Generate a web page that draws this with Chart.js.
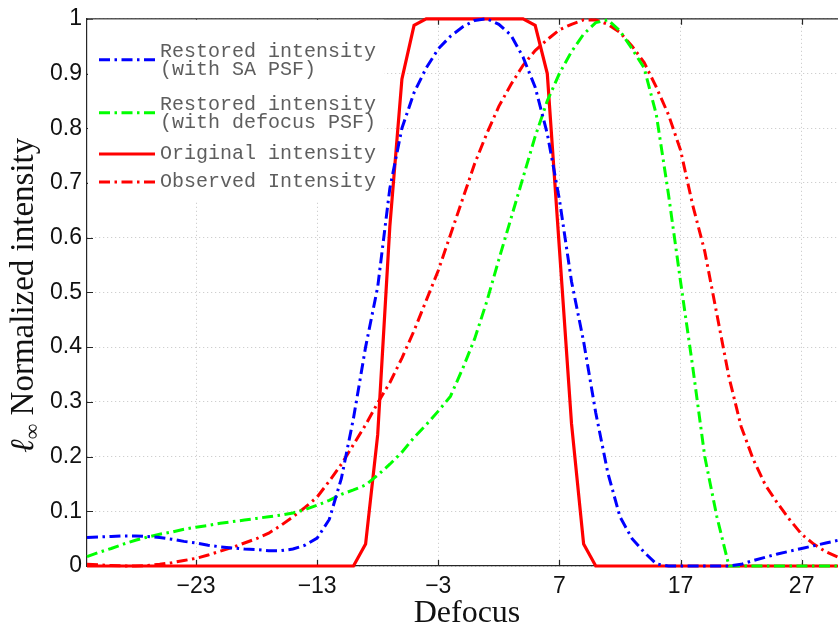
<!DOCTYPE html>
<html>
<head>
<meta charset="utf-8">
<title>Normalized intensity vs defocus</title>
<script src="https://cdn.jsdelivr.net/npm/chart.js@4.4.1/dist/chart.umd.min.js"></script>
<style>
  html, body { margin: 0; padding: 0; background: #fff; }
  #wrap { position: relative; width: 838px; height: 629px; }
</style>
</head>
<body>
<div id="wrap"><canvas id="intensityChart" width="838" height="629"></canvas></div>
<script>
// defocus positions (one sample per unit)
const defocus = [
  -32, -31, -30, -29, -28, -27, -26, -25, -24, -23,
  -22, -21, -20, -19, -18, -17, -16, -15, -14, -13,
  -12, -11, -10, -9, -8, -7, -6, -5, -4, -3,
  -2, -1, 0, 1, 2, 3, 4, 5, 6, 7,
  8, 9, 10, 11, 12, 13, 14, 15, 16, 17,
  18, 19, 20, 21, 22, 23, 24, 25, 26, 27,
  28, 29, 30
];

// restored intensity with SA PSF (blue)
const restoredSA = [
  0.052, 0.053, 0.054, 0.055, 0.055, 0.054, 0.052, 0.049, 0.045, 0.042,
  0.038, 0.035, 0.033, 0.031, 0.030, 0.028, 0.028, 0.031, 0.038, 0.051,
  0.085, 0.16, 0.27, 0.40, 0.51, 0.69, 0.80, 0.865, 0.91, 0.945,
  0.968, 0.985, 0.997, 1.0, 0.99, 0.97, 0.93, 0.875, 0.79, 0.67,
  0.52, 0.41, 0.28, 0.17, 0.09, 0.05, 0.025, 0.004, 0, 0,
  0, 0, 0, 0, 0.003, 0.01, 0.016, 0.022, 0.027, 0.032,
  0.037, 0.042, 0.047
];

// restored intensity with defocus PSF (green)
const restoredDefocus = [
  0.017, 0.025, 0.032, 0.040, 0.047, 0.053, 0.058, 0.062, 0.067, 0.071,
  0.074, 0.078, 0.081, 0.084, 0.087, 0.090, 0.093, 0.097, 0.103, 0.111,
  0.120, 0.131, 0.139, 0.148, 0.166, 0.186, 0.208, 0.235, 0.258, 0.283,
  0.31, 0.36, 0.415, 0.483, 0.56, 0.635, 0.71, 0.785, 0.85, 0.90,
  0.94, 0.972, 0.993, 0.998, 0.978, 0.945, 0.91, 0.825, 0.68, 0.52,
  0.365, 0.20, 0.09, 0, 0, 0, 0, 0, 0, 0,
  0, 0, 0
];

// original intensity (red, solid)
const original = [
  0, 0, 0, 0, 0, 0, 0, 0, 0, 0,
  0, 0, 0, 0, 0, 0, 0, 0, 0, 0,
  0, 0, 0, 0.04, 0.24, 0.62, 0.89, 0.988, 1, 1,
  1, 1, 1, 1, 1, 1, 1, 0.988, 0.90, 0.58,
  0.26, 0.04, 0, 0, 0, 0, 0, 0, 0, 0,
  0, 0, 0, 0, 0, 0, 0, 0, 0, 0,
  0, 0, 0
];

// observed intensity (red, dash-dot)
const observed = [
  0.003, 0.002, 0.001, 0, 0, 0.001, 0.003, 0.006, 0.010, 0.014,
  0.020, 0.027, 0.034, 0.042, 0.050, 0.060, 0.074, 0.090, 0.107, 0.126,
  0.155, 0.186, 0.222, 0.258, 0.298, 0.335, 0.38, 0.43, 0.485, 0.54,
  0.605, 0.67, 0.735, 0.79, 0.84, 0.88, 0.915, 0.942, 0.962, 0.98,
  0.99, 0.998, 0.998, 0.99, 0.975, 0.95, 0.92, 0.875, 0.825, 0.76,
  0.66, 0.575, 0.46, 0.345, 0.255, 0.195, 0.148, 0.115, 0.085, 0.058,
  0.04, 0.026, 0.016
];

const xTicks = [-23, -13, -3, 7, 17, 27];
const yTicks = [0, 0.1, 0.2, 0.3, 0.4, 0.5, 0.6, 0.7, 0.8, 0.9, 1];

const legendLabels = [
  ['Restored intensity', '(with SA PSF)'],
  ['Restored intensity', '(with defocus PSF)'],
  ['Original intensity'],
  ['Observed Intensity']
];

const dashDot = [11, 4.5, 2.5, 4.5];

function toPoints(values) {
  return defocus.map((x, i) => ({ x: x, y: values[i] }));
}

// marcos, ticks interiores, leyenda y titulos (estilo MATLAB)
const matlabFrame = {
  id: 'matlabFrame',
  beforeDatasetsDraw(chart) {
    const { ctx, chartArea: a, scales: { x, y } } = chart;
    ctx.save();
    ctx.strokeStyle = '#262626';
    ctx.lineWidth = 1.2;
    ctx.beginPath();
    ctx.moveTo(a.left, a.top);
    ctx.lineTo(a.right, a.top);
    xTicks.forEach(v => {
      const px = Math.round(x.getPixelForValue(v)) + 0.5;
      ctx.moveTo(px, a.bottom);
      ctx.lineTo(px, a.bottom - 6);
      ctx.moveTo(px, a.top);
      ctx.lineTo(px, a.top + 6);
    });
    yTicks.forEach(v => {
      const py = Math.round(y.getPixelForValue(v)) + 0.5;
      ctx.moveTo(a.left, py);
      ctx.lineTo(a.left + 6, py);
    });
    ctx.stroke();
    ctx.restore();
  },
  afterDatasetsDraw(chart) {
    const { ctx, chartArea: a } = chart;
    const datasets = chart.data.datasets;
    ctx.save();
    // caja blanca de la leyenda (sin borde)
    ctx.fillStyle = '#fff';
    ctx.fillRect(a.left + 1, a.top + 1, 296, 181);

    const entryTop = [51.5, 104.5, 154, 182];
    const lineGap = 18.5;
    ctx.font = '20px "Liberation Mono", "DejaVu Sans Mono", monospace';
    ctx.textBaseline = 'middle';
    ctx.textAlign = 'left';
    legendLabels.forEach((lines, i) => {
      const ds = datasets[i];
      const y0 = entryTop[i];
      const midY = y0 + (lines.length - 1) * lineGap / 2 + (lines.length > 1 ? -1 : 0);
      ctx.save();
      ctx.strokeStyle = ds.borderColor;
      ctx.lineWidth = ds.borderWidth;
      ctx.setLineDash(ds.borderDash || []);
      ctx.beginPath();
      ctx.moveTo(a.left + 12, midY);
      ctx.lineTo(a.left + 68, midY);
      ctx.stroke();
      ctx.restore();
      ctx.fillStyle = '#5e5e5e';
      lines.forEach((t, j) => ctx.fillText(t, a.left + 73, y0 + j * lineGap));
    });
    ctx.restore();
  },
  afterDraw(chart) {
    const { ctx, chartArea: a } = chart;
    ctx.save();
    ctx.fillStyle = '#111';
    // titulo eje x
    ctx.font = '32px "Liberation Serif", "DejaVu Serif", serif';
    ctx.textAlign = 'center';
    ctx.textBaseline = 'alphabetic';
    ctx.fillText('Defocus', 467, 622);

    // titulo eje y con subindice
    const mainFont = '33px "Liberation Serif", "DejaVu Serif", serif';
    const ellFont = 'italic 33px "Liberation Serif", "DejaVu Serif", serif';
    const subFont = '22px "Liberation Serif", "DejaVu Serif", serif';
    const main = ' Normalized intensity';
    ctx.font = ellFont; const wEll = ctx.measureText('\u2113').width;
    ctx.font = subFont; const wSub = ctx.measureText('\u221E').width;
    ctx.font = mainFont; const wMain = ctx.measureText(main).width;
    const total = wEll + wSub + wMain;
    ctx.translate(33, (a.top + a.bottom) / 2 + 3);
    ctx.rotate(-Math.PI / 2);
    ctx.textAlign = 'left';
    let cx = -total / 2;
    ctx.font = ellFont; ctx.fillText('\u2113', cx, 0); cx += wEll;
    ctx.font = subFont; ctx.fillText('\u221E', cx, 6); cx += wSub;
    ctx.font = mainFont; ctx.fillText(main, cx, 0);
    ctx.restore();
  }
};

Chart.defaults.color = '#000';

new Chart(document.getElementById('intensityChart'), {
  type: 'line',
  data: {
    datasets: [
      {
        label: 'Restored intensity (with SA PSF)',
        data: toPoints(restoredSA),
        borderColor: '#0000ff',
        borderWidth: 3,
        borderDash: dashDot,
        pointRadius: 0,
        tension: 0,
        clip: 6
      },
      {
        label: 'Restored intensity (with defocus PSF)',
        data: toPoints(restoredDefocus),
        borderColor: '#00ff00',
        borderWidth: 3,
        borderDash: dashDot,
        pointRadius: 0,
        tension: 0,
        clip: 6
      },
      {
        label: 'Original intensity',
        data: toPoints(original),
        borderColor: '#ff0000',
        borderWidth: 3.2,
        pointRadius: 0,
        tension: 0,
        clip: 6
      },
      {
        label: 'Observed Intensity',
        data: toPoints(observed),
        borderColor: '#ff0000',
        borderWidth: 3,
        borderDash: dashDot,
        pointRadius: 0,
        tension: 0,
        clip: 6
      }
    ]
  },
  options: {
    responsive: false,
    animation: false,
    layout: { padding: { top: 16, right: 0, left: 0, bottom: 0 } },
    plugins: {
      legend: { display: false },
      tooltip: { enabled: false }
    },
    scales: {
      x: {
        type: 'linear',
        min: -32,
        max: 30,
        afterBuildTicks: scale => { scale.ticks = xTicks.map(v => ({ value: v })); },
        afterFit: scale => { scale.height = 63; },
        ticks: {
          padding: 7,
          font: { family: '"Liberation Sans", Arial, sans-serif', size: 23 },
          color: '#111',
          callback: v => String(v).replace('-', '\u2212')
        },
        grid: { color: '#c4c4c4', lineWidth: 1, drawTicks: false },
        border: { color: '#262626', width: 1.2, dash: [1, 3] }
      },
      y: {
        min: 0,
        max: 1,
        afterBuildTicks: scale => { scale.ticks = yTicks.map(v => ({ value: v })); },
        afterFit: scale => { scale.width = 87; },
        ticks: {
          padding: 5,
          font: { family: '"Liberation Sans", Arial, sans-serif', size: 23 },
          color: '#111',
          callback: v => (v === 0 || v === 1) ? String(v) : v.toFixed(1)
        },
        grid: { color: '#c4c4c4', lineWidth: 1, drawTicks: false },
        border: { color: '#262626', width: 1.2, dash: [1, 3] }
      }
    }
  },
  plugins: [matlabFrame]
});
</script>
</body>
</html>
